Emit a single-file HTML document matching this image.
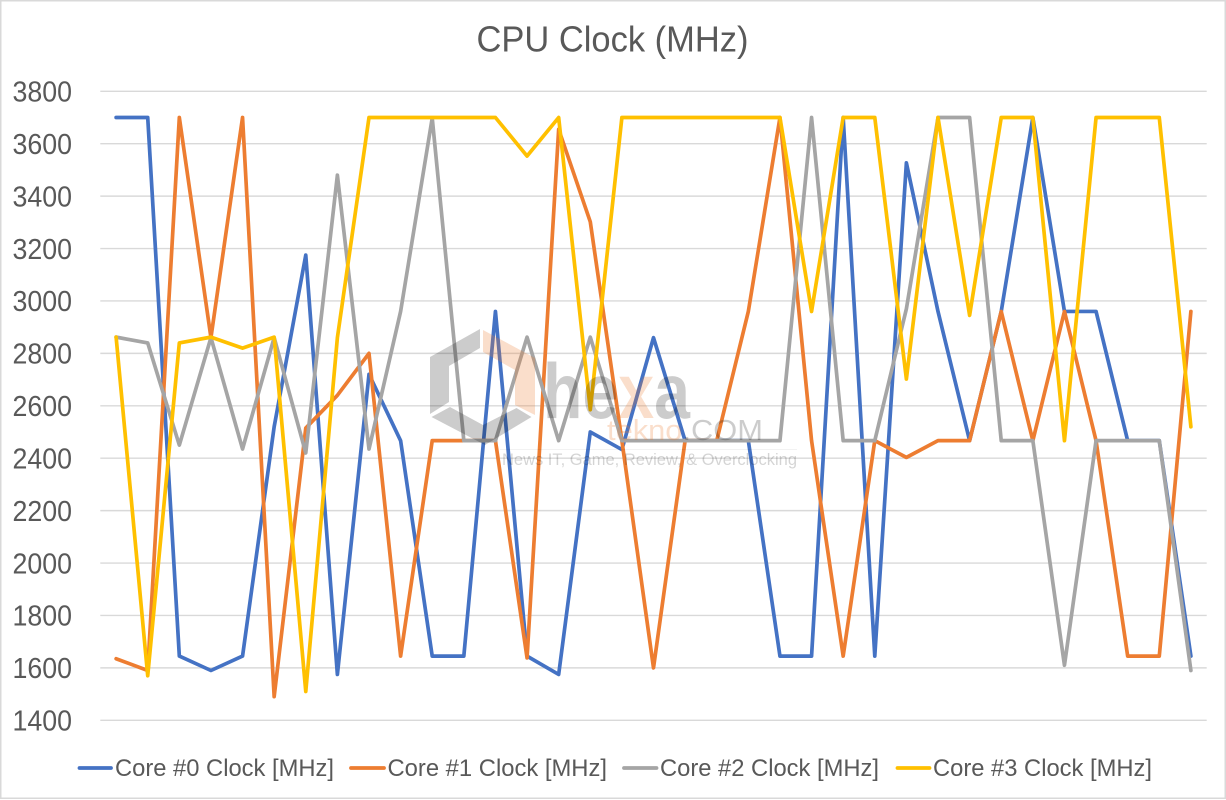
<!DOCTYPE html>
<html lang="en">
<head>
<meta charset="utf-8">
<title>CPU Clock (MHz)</title>
<style>
  html, body { margin: 0; padding: 0; background: #ffffff; }
  svg { display: block; font-family: "Liberation Sans", sans-serif; filter: blur(0.35px); }
  .grid { stroke: #d9d9d9; stroke-width: 1.4; }
  .line { fill: none; stroke-width: 3.7; stroke-linejoin: round; stroke-linecap: round; }
  .tick { fill: #595959; font-size: 29px; }
  .legend-text { fill: #595959; font-size: 24px; }
  .swatch { stroke-width: 3.8; stroke-linecap: round; }
</style>
</head>
<body>
<svg id="chart" width="1226" height="800" viewBox="0 0 1226 800" xmlns="http://www.w3.org/2000/svg">
  <rect x="0.75" y="0.75" width="1224.5" height="797.5" fill="#ffffff" stroke="#d9d9d9" stroke-width="1.5"/>
  <text x="476.5" y="51.5" font-size="36" fill="#595959" textLength="272" lengthAdjust="spacingAndGlyphs">CPU Clock (MHz)</text>
  <g id="gridlines"></g>
  <g id="ticks"></g>
  <g id="series"></g>

  <g>
    <g>
      <line class="swatch" x1="79.5" y1="768" x2="111" y2="768" stroke="#4472c4"/>
      <text class="legend-text" x="115" y="776" textLength="219" lengthAdjust="spacingAndGlyphs">Core #0 Clock [MHz]</text>
    </g>
    <g>
      <line class="swatch" x1="351" y1="768" x2="384" y2="768" stroke="#ed7d31"/>
      <text class="legend-text" x="387.5" y="776" textLength="219.5" lengthAdjust="spacingAndGlyphs">Core #1 Clock [MHz]</text>
    </g>
    <g>
      <line class="swatch" x1="624" y1="768" x2="656.5" y2="768" stroke="#a5a5a5"/>
      <text class="legend-text" x="660" y="776" textLength="219" lengthAdjust="spacingAndGlyphs">Core #2 Clock [MHz]</text>
    </g>
    <g>
      <line class="swatch" x1="897.5" y1="768" x2="929.5" y2="768" stroke="#ffc000"/>
      <text class="legend-text" x="933" y="776" textLength="219" lengthAdjust="spacingAndGlyphs">Core #3 Clock [MHz]</text>
    </g>
  </g>

  <g>
    <polygon points="430,357 480,329 480,348 449,366 449,402 430,414" fill="#000000" fill-opacity="0.2"/>
    <polygon points="431.5,417 450,407 483,425 516.5,408 531.5,417 485,445" fill="#000000" fill-opacity="0.2"/>
    <polygon points="483,330 535,358 535,415 515,405 515,370 483,352" fill="#ed7d31" fill-opacity="0.25"/>
    <text x="543" y="418" font-size="78" font-weight="bold" fill="#000000" fill-opacity="0.2" textLength="147" lengthAdjust="spacingAndGlyphs">he<tspan fill="#ed7d31" fill-opacity="0.25">x</tspan>a</text>
    <text x="607" y="440" font-size="29" fill="#000000" fill-opacity="0.2" textLength="156" lengthAdjust="spacingAndGlyphs"><tspan fill="#ed7d31" fill-opacity="0.25">tekno</tspan>.COM</text>
    <line x1="500" y1="449.5" x2="797" y2="449.5" stroke="#000000" stroke-opacity="0.05" stroke-width="1"/>
    <text x="502" y="465" font-size="17" fill="#000000" fill-opacity="0.17" textLength="295" lengthAdjust="spacingAndGlyphs">News IT, Game, Review, &amp; Overclocking</text>
  </g>
</svg>

<script>
const tickLabels = [1400, 1600, 1800, 2000, 2200, 2400, 2600, 2800, 3000, 3200, 3400, 3600, 3800];
const seriesNames = ['core-0', 'core-1', 'core-2', 'core-3'];
const core0 = [3700, 3700, 1645, 1590, 1645, 2520, 3175, 1575, 2720, 2467, 1645, 1645, 2960, 1645, 1575, 2500, 2433, 2860, 2467, 2467, 2467, 1645, 1645, 3700, 1645, 3527, 2960, 2467, 2960, 3700, 2960, 2960, 2467, 2467, 1645];
const core1 = [1635, 1590, 3700, 2860, 3700, 1490, 2515, 2640, 2800, 1645, 2467, 2467, 2467, 1638, 3655, 3302, 2467, 1600, 2467, 2467, 2960, 3700, 2467, 1645, 2467, 2403, 2467, 2467, 2960, 2467, 2960, 2467, 1645, 1645, 2960];
const core2 = [2862, 2840, 2450, 2860, 2435, 2860, 2420, 3480, 2435, 2960, 3698, 2467, 2467, 2862, 2467, 2862, 2467, 2467, 2467, 2467, 2467, 2467, 3700, 2467, 2467, 2970, 3700, 3700, 2467, 2467, 1610, 2467, 2467, 2467, 1590];
const core3 = [2862, 1570, 2840, 2862, 2820, 2862, 1510, 2860, 3700, 3700, 3700, 3700, 3700, 3553, 3700, 2585, 3700, 3700, 3700, 3700, 3700, 3700, 2960, 3700, 3700, 2702, 3700, 2945, 3700, 3700, 2467, 3700, 3700, 3700, 2520];
const seriesColors = ['#4472c4', '#ed7d31', '#a5a5a5', '#ffc000'];

const SVG_NS = 'http://www.w3.org/2000/svg';
const plotLeft = 100.3;
const plotRight = 1206.7;
const plotBottom = 720.3;
const plotTop = 91.3;
const yMin = tickLabels[0];
const yMax = tickLabels[tickLabels.length - 1];
const allSeries = [core0, core1, core2, core3];

function xScale(i) {
  const step = (plotRight - plotLeft) / core0.length;
  return plotLeft + step * (i + 0.5);
}
function yScale(v) {
  return plotBottom - (v - yMin) / (yMax - yMin) * (plotBottom - plotTop);
}

const gridGroup = document.getElementById('gridlines');
const tickGroup = document.getElementById('ticks');
tickLabels.forEach(function (t) {
  const y = yScale(t);
  const line = document.createElementNS(SVG_NS, 'line');
  
  
  line.setAttribute('class', 'grid');
  line.setAttribute('x1', plotLeft);
  line.setAttribute('x2', plotRight);
  line.setAttribute('y1', y);
  line.setAttribute('y2', y);
  gridGroup.appendChild(line);

  const label = document.createElementNS(SVG_NS, 'text');
  
  
  label.setAttribute('class', 'tick');
  label.setAttribute('x', 12.5);
  label.setAttribute('y', y + 10.2);
  label.setAttribute('textLength', 59.5);
  label.setAttribute('lengthAdjust', 'spacingAndGlyphs');
  label.textContent = String(t);
  tickGroup.appendChild(label);
});

const seriesGroup = document.getElementById('series');
allSeries.forEach(function (values, s) {
  const pts = values.map(function (v, i) {
    return xScale(i).toFixed(2) + ',' + yScale(v).toFixed(2);
  }).join(' ');
  const poly = document.createElementNS(SVG_NS, 'polyline');
  
  
  poly.setAttribute('class', 'line');
  poly.setAttribute('stroke', seriesColors[s]);
  poly.setAttribute('points', pts);
  seriesGroup.appendChild(poly);
});
</script>
</body>
</html>
